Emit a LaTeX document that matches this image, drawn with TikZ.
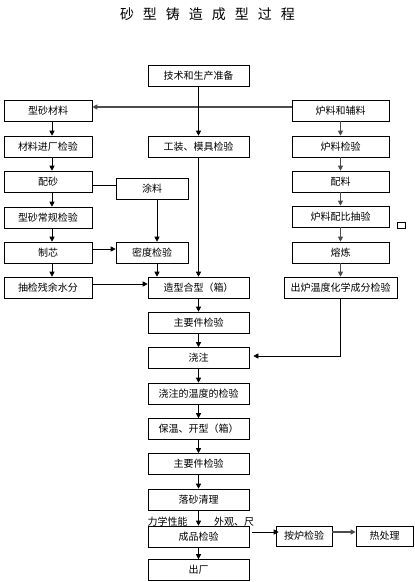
\documentclass[tikz,border=0pt]{standalone}
\usepackage{fontspec}
\setmainfont{Noto Sans CJK SC}
\usetikzlibrary{arrows.meta,calc}
\begin{document}
\begin{tikzpicture}[x=1pt,y=-1pt,
  box/.style={draw,line width=0.6pt,inner sep=0pt,font=\fontsize{10pt}{12pt}\selectfont},
  bw/.style={box,minimum width=88pt,minimum height=21pt},
  bm/.style={box,minimum width=101pt,minimum height=21pt},
  br/.style={box,minimum width=97pt,minimum height=21pt},
  bs/.style={box,minimum width=72pt,minimum height=21pt},
  conn/.style={line width=0.6pt},
  arr/.style={conn,-{Triangle[length=5pt,width=5pt]}},
  heavy/.style={line width=1.1pt,draw=black!70,-{Triangle[length=5pt,width=5pt]}},
  lbl/.style={inner sep=0pt,font=\fontsize{10pt}{12pt}\selectfont}]
\useasboundingbox (0,0) rectangle (415,582);
\node[inner sep=0pt,font=\fontsize{14pt}{16pt}\selectfont] (title) at (207.5,14.5) {{\spaceskip=9pt 砂 型 铸 造 成 型 过 程}};
% left column
\node[bw] (xsc) at (48,110.5) {型砂材料};
\node[bw] (clj) at (48,146.5) {材料进厂检验};
\node[bw] (ps) at (48,181.5) {配砂};
\node[bw] (xscg) at (48,217.5) {型砂常规检验};
\node[bw] (zx) at (48,252.5) {制芯};
\node[bw] (cj) at (48,287.5) {抽检残余水分};
% small column
\node[bs] (tl) at (152,188.5) {涂料};
\node[bs] (mdjy) at (152,252.5) {密度检验};
% middle column
\node[bm] (tech) at (198.5,75.5) {技术和生产准备};
\node[bm] (gz) at (198.5,146.5) {工装、模具检验};
\node[bm] (zxhx) at (198.5,287.5) {造型合型（箱）};
\node[bm] (zy1) at (198.5,322.5) {主要件检验};
\node[bm] (jz) at (198.5,358) {浇注};
\node[bm] (jzwd) at (198.5,393.5) {浇注的温度的检验};
\node[bm] (bwkx) at (198.5,429) {保温、开型（箱）};
\node[bm] (zy2) at (198.5,464) {主要件检验};
\node[bm] (ls) at (198.5,499.5) {落砂清理};
\node[bm] (cp) at (198.5,536.5) {成品检验};
\node[bm] (cc) at (198.5,570) {出厂};
\node[lbl] (lx) at (167.5,522) {力学性能};
\node[lbl] (wg) at (234,522) {外观、尺};
% right column
\node[br] (llfl) at (340.5,110.5) {炉料和辅料};
\node[br] (lljy) at (340.5,146.5) {炉料检验};
\node[br] (pl) at (340.5,181.5) {配料};
\node[br] (llpb) at (340.5,216.5) {炉料配比抽验};
\node[box,minimum width=8pt,minimum height=6pt] (sq) at (401,225) {};
\node[br] (rl) at (340.5,252.5) {熔炼};
\node[box,minimum width=113pt,minimum height=21pt] (cl) at (340.5,287.5) {出炉温度化学成分检验};
\node[box,minimum width=56pt,minimum height=20pt] (al) at (304,536) {按炉检验};
\node[box,minimum width=57pt,minimum height=20pt] (rcl) at (384.5,536) {热处理};
% connectors
\draw[heavy] ([yshift=3.5pt]llfl.west) -- ([yshift=3.5pt]xsc.east);
\draw[arr] (tech.south) -- (gz.north);
\foreach \a/\b in {xsc/clj,clj/ps,ps/xscg,xscg/zx,zx/cj}
  \draw[arr] ([xshift=4pt]\a.south) -- ([xshift=4pt]\b.north);
\draw[conn] ([yshift=-3.5pt]ps.east) -- ([yshift=-3.5pt]ps.east -| tl.west);
\draw[arr] ([xshift=5pt]tl.south) -- ([xshift=5pt]mdjy.north);
\draw[arr] ([yshift=3.5pt]zx.east) -- ([yshift=3.5pt]zx.east -| mdjy.west);
\draw[arr] ([yshift=3.5pt]cj.east) -- ([yshift=3.5pt]cj.east -| zxhx.west);
\draw[arr] ([xshift=5pt]mdjy.south) -- ([xshift=5pt]mdjy.south |- zxhx.north);
\draw[arr] (gz.south) -- (zxhx.north);
\foreach \a/\b in {llfl/lljy,lljy/pl,pl/llpb,llpb/rl,rl/cl}
  \draw[heavy] (\a.south) -- (\b.north);
\draw[arr] (cl.south) |- ([xshift=4pt,yshift=2pt]jz.east);
\foreach \a/\b in {zxhx/zy1,zy1/jz,jz/jzwd,jzwd/bwkx,bwkx/zy2,zy2/ls,ls/cp,cp/cc}
  \draw[arr] (\a.south) -- (\b.north);
\draw[arr] ([xshift=3pt,yshift=4.5pt]cp.east) -- ([xshift=3pt,yshift=4.5pt]cp.east -| al.west);
\draw[heavy] ([yshift=4pt]al.east) -- ([yshift=4pt]al.east -| rcl.west);
\end{tikzpicture}
\end{document}
